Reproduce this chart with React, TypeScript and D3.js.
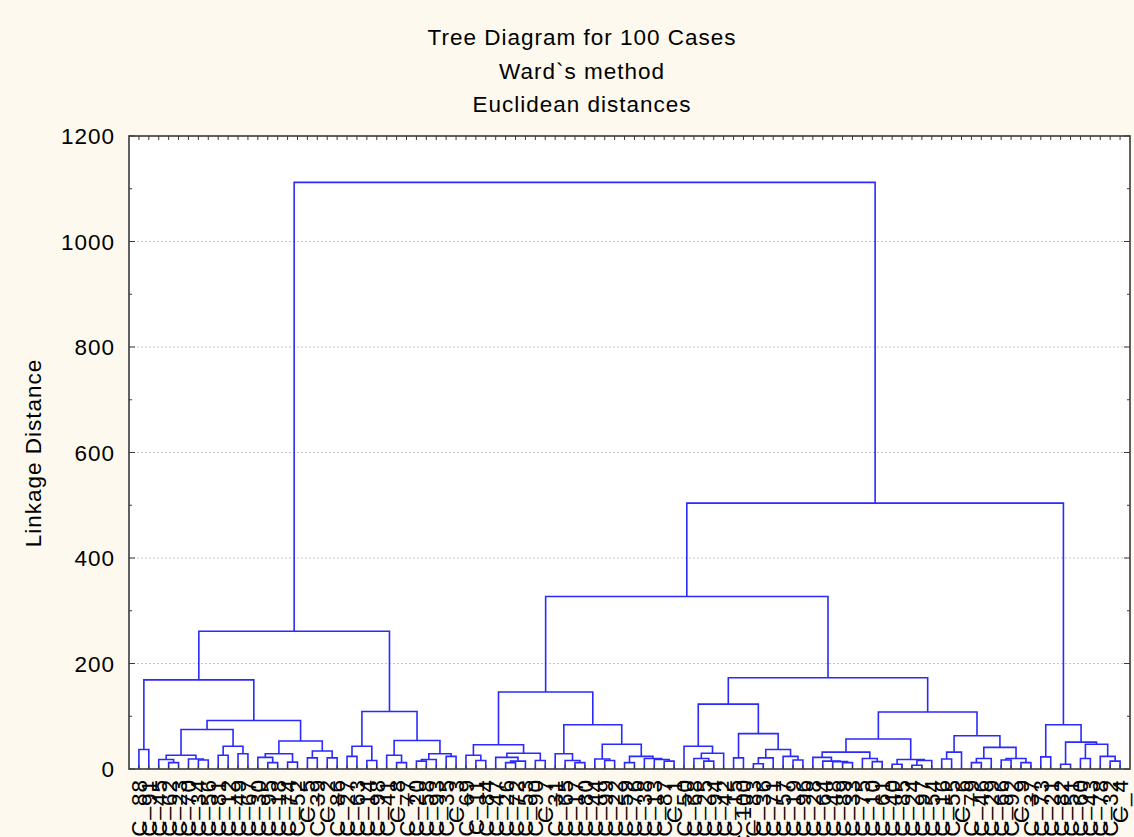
import * as d3 from "d3";
import { useEffect, useRef } from "react";

const titleLines = ["Tree Diagram for 100 Cases", "Ward`s method", "Euclidean distances"];
const yLabel = "Linkage Distance";
const yTicks = [0, 200, 400, 600, 800, 1000, 1200];
const gridValues = [200, 400, 600, 800, 1000];

// case numbers in leaf order, left to right
const caseNumbers = [
  88, 91, 45, 62, 23, 70, 34, 56, 81, 12, 49, 67, 30, 95, 18, 74, 52, 5, 39, 2,
  86, 27, 63, 14, 98, 41, 8, 77, 20, 58, 93, 35, 3, 69, 11, 84, 47, 26, 72, 53,
  90, 7, 31, 65, 17, 80, 44, 99, 22, 59, 76, 38, 13, 87, 1, 50, 68, 25, 94, 42,
  15, 100, 83, 36, 71, 57, 19, 96, 28, 64, 48, 89, 33, 75, 10, 61, 40, 85, 24, 97,
  54, 16, 55, 6, 79, 46, 29, 66, 92, 9, 37, 73, 21, 82, 51, 60, 43, 78, 32, 4,
];

// linkage rows [a, b, distance]; 1..100 = leaf positions, 101+ = earlier rows
const merges: [number, number, number][] = [
  [4, 5, 12], [3, 101, 18], [7, 8, 17], [6, 103, 19], [102, 104, 26],
  [9, 10, 26], [11, 12, 29], [106, 107, 43], [105, 108, 75], [14, 15, 12],
  [13, 110, 22], [16, 17, 13], [111, 112, 29], [18, 19, 21], [20, 21, 21],
  [114, 115, 34], [113, 116, 53], [109, 117, 92], [1, 2, 37], [119, 118, 169],
  [22, 23, 24], [24, 25, 16], [121, 122, 43], [27, 28, 12], [26, 124, 26],
  [29, 30, 15], [126, 31, 18], [32, 33, 24], [127, 128, 29], [125, 129, 54],
  [123, 130, 109], [120, 131, 261],
  [35, 36, 16], [34, 133, 26], [38, 39, 12], [135, 40, 15], [37, 136, 22],
  [41, 42, 16], [137, 138, 30], [134, 139, 46], [45, 46, 12], [44, 141, 16],
  [43, 142, 29], [48, 49, 16], [47, 144, 19], [50, 51, 12], [54, 55, 15],
  [53, 147, 18], [52, 148, 20], [146, 149, 24], [145, 150, 47], [143, 151, 84],
  [140, 152, 146],
  [58, 59, 15], [57, 154, 20], [155, 60, 30], [56, 156, 43], [61, 62, 21],
  [63, 64, 10], [159, 65, 21], [67, 68, 17], [66, 161, 24], [160, 162, 37],
  [158, 163, 67], [157, 164, 123], [72, 73, 12], [71, 166, 14], [70, 167, 15],
  [69, 168, 22], [75, 76, 14], [74, 170, 20], [169, 171, 32], [77, 78, 9],
  [79, 80, 7], [174, 81, 16], [173, 175, 18], [172, 176, 57], [82, 83, 19],
  [178, 84, 32], [85, 86, 12], [180, 87, 20], [88, 89, 17], [90, 91, 12],
  [182, 183, 20], [181, 184, 41], [179, 185, 63], [177, 186, 108], [165, 187, 173],
  [153, 188, 327],
  [92, 93, 23], [94, 95, 9], [96, 97, 20], [99, 100, 15], [98, 193, 24],
  [192, 194, 47], [191, 195, 51], [190, 196, 84], [189, 197, 504], [132, 198, 1112],
];

const width = 1134;
const height = 837;
const plot = { left: 129, right: 1130, top: 136, bottom: 769 };
const font = "'Liberation Sans', Arial, sans-serif";

export default function App() {
  const ref = useRef<SVGSVGElement>(null);

  useEffect(() => {
    const svg = d3.select(ref.current);
    svg.selectAll("*").remove();

    const x = d3.scaleLinear().domain([0, caseNumbers.length + 1]).range([plot.left, plot.right]);
    const y = d3.scaleLinear().domain([0, 1200]).range([plot.bottom, plot.top]);

    svg.append("rect").attr("width", width).attr("height", height).attr("fill", "#fdf9ee");
    svg
      .append("rect")
      .attr("x", plot.left)
      .attr("y", plot.top)
      .attr("width", plot.right - plot.left)
      .attr("height", plot.bottom - plot.top)
      .attr("fill", "#fff");

    svg
      .append("g")
      .selectAll("line")
      .data(gridValues)
      .join("line")
      .attr("x1", plot.left)
      .attr("x2", plot.right)
      .attr("y1", (d) => y(d))
      .attr("y2", (d) => y(d))
      .attr("stroke", "#c4c4c4")
      .attr("stroke-dasharray", "2,2");

    // dendrogram
    const nodes = new Map<number, { x: number; h: number }>();
    caseNumbers.forEach((_, i) => nodes.set(i + 1, { x: x(i + 1), h: 0 }));
    const links: string[] = [];
    merges.forEach(([a, b, h], k) => {
      const na = nodes.get(a)!;
      const nb = nodes.get(b)!;
      nodes.set(101 + k, { x: (na.x + nb.x) / 2, h });
      links.push(`M${na.x},${y(na.h)}V${y(h)}H${nb.x}V${y(nb.h)}`);
    });
    svg
      .append("g")
      .selectAll("path")
      .data(links)
      .join("path")
      .attr("d", (d) => d)
      .attr("fill", "none")
      .attr("stroke", "#2a2aff")
      .attr("stroke-width", 1.6);

    // frame and ticks
    const axisColor = "#3a3a3a";
    const ticks = svg.append("g").attr("stroke", axisColor).attr("stroke-width", 1);
    d3.range(0, 1201, 100).forEach((v) => {
      const len = v % 200 === 0 ? 6 : 3;
      ticks.append("line").attr("x1", plot.left).attr("x2", plot.left + len).attr("y1", y(v)).attr("y2", y(v));
      ticks.append("line").attr("x1", plot.right).attr("x2", plot.right - len).attr("y1", y(v)).attr("y2", y(v));
    });
    caseNumbers.forEach((_, i) => {
      const cx = x(i + 1);
      ticks.append("line").attr("x1", cx).attr("x2", cx).attr("y1", plot.top).attr("y2", plot.top + 4);
      ticks.append("line").attr("x1", cx).attr("x2", cx).attr("y1", plot.bottom).attr("y2", plot.bottom - 4);
    });
    svg
      .append("rect")
      .attr("x", plot.left)
      .attr("y", plot.top)
      .attr("width", plot.right - plot.left)
      .attr("height", plot.bottom - plot.top)
      .attr("fill", "none")
      .attr("stroke", axisColor)
      .attr("stroke-width", 1.6);

    const text = svg
      .append("g")
      .attr("font-family", font)
      .attr("font-size", 22.5)
      .attr("letter-spacing", 1)
      .attr("fill", "#000");

    titleLines.forEach((t, i) => {
      text.append("text").attr("x", 582).attr("y", 45 + i * 33.5).attr("text-anchor", "middle").text(t);
    });

    yTicks.forEach((v) => {
      text.append("text").attr("x", 115).attr("y", y(v) + 8).attr("text-anchor", "end").text(v);
    });

    text
      .append("text")
      .attr("transform", "translate(41,453) rotate(-90)")
      .attr("text-anchor", "middle")
      .text(yLabel);

    caseNumbers.forEach((n, i) => {
      text
        .append("text")
        .attr("transform", `translate(${x(i + 1) + 8},779) rotate(-90)`)
        .attr("text-anchor", "end")
        .text(`C_${n}`);
    });
  }, []);

  return (
    <svg
      ref={ref}
      width={width}
      height={height}
      style={{ position: "absolute", left: 0, top: 0, display: "block" }}
    />
  );
}
